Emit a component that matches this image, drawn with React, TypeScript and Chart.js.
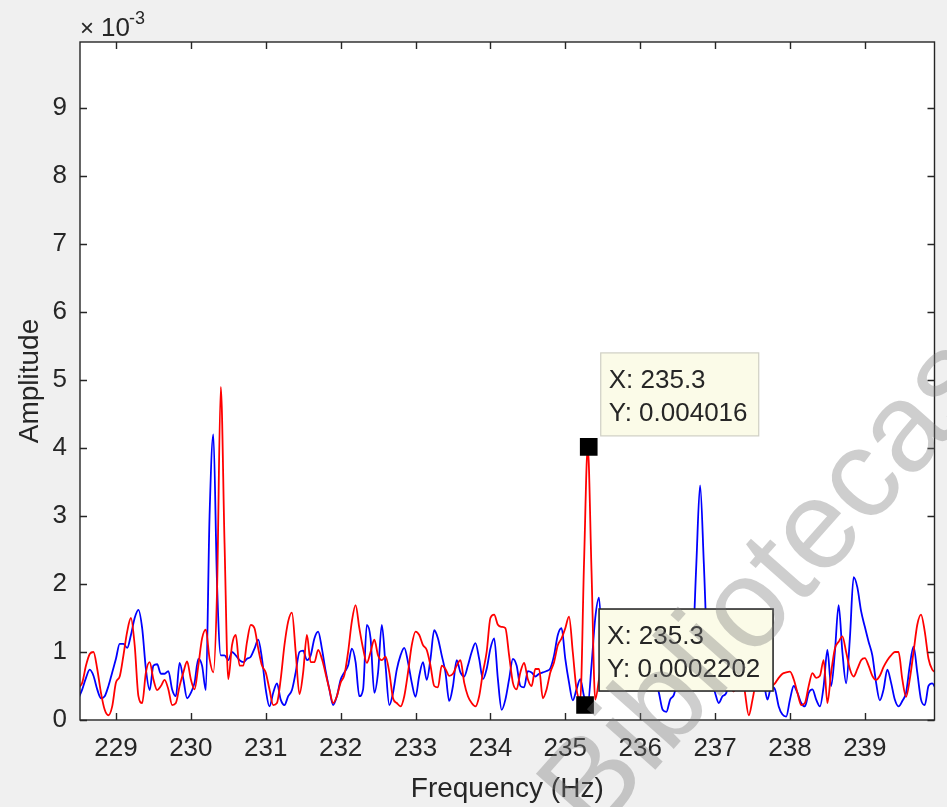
import React, { useEffect, useRef } from "react";
import { Chart, registerables } from "chart.js";

Chart.register(...registerables);

// Frequency grid (Hz)
const F_START = 228.5;
const F_STEP = 0.05;

// Amplitude values in units of 1e-3 (one value per 0.05 Hz, starting 228.50 Hz)
const RED_E3 = [
  0.47, 0.55, 0.80, 0.97, 1.00, 0.75, 0.40, 0.15, 0.07, 0.20,
  0.55, 0.64, 0.95, 1.30, 1.50, 1.10, 0.35, 0.25, 0.70, 0.85,
  0.60, 0.44, 0.50, 0.59, 0.45, 0.22, 0.25, 0.50, 0.70, 0.86,
  0.60, 0.45, 0.80, 1.20, 1.33, 0.90, 0.70, 1.90, 4.90, 2.60,
  0.60, 1.10, 1.25, 0.80, 0.80, 1.15, 1.40, 1.35, 1.05, 0.80,
  0.70, 0.45, 0.22, 0.25, 0.60, 1.10, 1.45, 1.58, 1.00, 0.38,
  0.70, 1.25, 0.85, 0.85, 1.03, 0.90, 0.68, 0.45, 0.25, 0.35,
  0.55, 0.66, 1.00, 1.45, 1.69, 1.35, 1.05, 0.84, 1.00, 1.18,
  0.95, 0.88, 0.93, 0.70, 0.32, 0.25, 0.20, 0.35, 0.70, 1.10,
  1.30, 1.25, 1.10, 1.03, 0.80, 0.50, 0.48, 0.80, 0.75, 0.65,
  0.68, 0.80, 0.88, 0.55, 0.35, 0.25, 0.20, 0.35, 0.70, 1.00,
  1.50, 1.55, 1.40, 1.37, 1.35, 0.95, 0.55, 0.45, 0.70, 0.84,
  0.60, 0.50, 0.75, 0.75, 0.32, 0.45, 0.70, 0.85, 1.10, 1.20,
  1.35, 1.52, 1.00, 0.45, 0.30, 2.30, 4.016, 2.20, 0.30, 0.60,
  1.00, 0.70, 0.50, 0.90, 1.20, 0.80, 0.60, 0.90, 1.10, 0.70,
  0.50, 0.80, 1.00, 0.70, 0.60, 0.90, 1.10, 0.80, 0.60, 0.70,
  1.00, 0.80, 0.60, 0.90, 1.20, 0.90, 0.60, 0.80, 1.10, 0.90,
  0.60, 0.70, 0.90, 0.60, 0.50, 0.42, 0.55, 0.80, 0.40, 0.07,
  0.30, 0.59, 0.80, 0.70, 0.55, 0.50, 0.54, 0.62, 0.68, 0.70,
  0.71, 0.60, 0.40, 0.22, 0.25, 0.50, 0.69, 0.62, 0.65, 0.88,
  0.25, 0.70, 1.05, 1.15, 1.23, 1.00, 0.75, 0.64, 0.75, 0.88,
  0.91, 0.80, 0.65, 0.59, 0.65, 0.78, 0.88, 0.95, 1.00, 1.00,
  0.60, 0.34, 0.60, 1.00, 1.40, 1.55, 1.30, 0.90, 0.74, 0.70,
];

const BLUE_E3 = [
  0.32, 0.45, 0.62, 0.74, 0.65, 0.45, 0.32, 0.35, 0.50, 0.70,
  0.90, 1.12, 1.12, 1.06, 1.25, 1.50, 1.62, 1.35, 0.75, 0.44,
  0.80, 0.82, 0.68, 0.68, 0.72, 0.45, 0.35, 0.84, 0.60, 0.32,
  0.40, 0.55, 0.90, 0.80, 0.44, 3.00, 4.20, 2.00, 0.95, 0.95,
  0.88, 1.00, 0.95, 0.88, 0.85, 0.90, 0.93, 1.05, 1.18, 0.90,
  0.45, 0.20, 0.40, 0.54, 0.30, 0.22, 0.35, 0.44, 0.70, 1.00,
  1.02, 0.88, 0.95, 1.20, 1.30, 1.05, 0.72, 0.45, 0.22, 0.35,
  0.59, 0.70, 0.80, 1.05, 0.85, 0.35, 0.45, 1.40, 1.20, 0.40,
  0.70, 1.40, 0.80, 0.22, 0.40, 0.74, 0.95, 1.06, 0.85, 0.55,
  0.34, 0.65, 0.85, 0.59, 0.90, 1.32, 1.20, 0.95, 0.70, 0.28,
  0.50, 0.88, 0.70, 0.64, 0.80, 1.00, 1.13, 0.90, 0.60, 0.75,
  1.05, 1.20, 0.60, 0.15, 0.30, 0.60, 0.90, 0.80, 0.50, 0.48,
  0.72, 0.70, 0.64, 0.68, 0.70, 0.72, 0.76, 0.95, 1.25, 1.35,
  0.90, 0.55, 0.29, 0.45, 0.60, 0.35, 0.22, 0.80, 1.50, 1.80,
  0.90, 0.60, 0.80, 1.00, 0.70, 0.50, 0.80, 1.10, 0.80, 0.55,
  0.70, 1.00, 0.80, 0.50, 0.60, 0.40, 0.15, 0.12, 0.30, 0.37,
  0.60, 0.80, 0.60, 0.70, 1.00, 2.30, 3.45, 2.30, 0.90, 0.60,
  0.40, 0.25, 0.35, 0.40, 0.70, 0.90, 0.70, 0.60, 0.80, 0.90,
  0.65, 0.50, 0.70, 0.55, 0.30, 0.49, 0.45, 0.20, 0.08, 0.05,
  0.30, 0.50, 0.40, 0.25, 0.20, 0.40, 0.45, 0.30, 0.20, 0.50,
  1.03, 0.50, 1.00, 1.69, 1.00, 0.54, 1.20, 2.10, 1.95, 1.60,
  1.37, 1.15, 0.95, 0.55, 0.29, 0.45, 0.74, 0.55, 0.30, 0.20,
  0.28, 0.40, 0.80, 1.08, 0.70, 0.30, 0.22, 0.50, 0.54, 0.45,
];

const X_TICKS = [229, 230, 231, 232, 233, 234, 235, 236, 237, 238, 239];
const Y_TICKS = [0, 1, 2, 3, 4, 5, 6, 7, 8, 9];
const X_MIN = 228.52;
const X_MAX = 239.93;
const Y_MAX = 9.97;

// Data tips (real units)
const TIP_X = [235.313, 235.264];
const TIP_Y = [0.004016, 0.0002202];
const TIP_TEXT = [
  ["X: 235.3", "Y: 0.004016"],
  ["X: 235.3", "Y: 0.0002202"],
];

const WATERMARK = "Bibliotecas";

const FONT = "'Liberation Sans', Arial, Helvetica, sans-serif";
const AXIS_COLOR = "#262626";

const FREQ = RED_E3.map((_, i) => +(F_START + i * F_STEP).toFixed(2));

const matlabPlugin = {
  id: "matlabLook",
  beforeDraw(chart: any) {
    const { ctx, chartArea: a, width, height } = chart;
    ctx.save();
    ctx.fillStyle = "#f0f0f0";
    ctx.fillRect(0, 0, width, height);
    ctx.fillStyle = "#ffffff";
    ctx.fillRect(a.left, a.top, a.right - a.left, a.bottom - a.top);
    ctx.restore();
  },
  afterDatasetsDraw(chart: any) {
    const { ctx, chartArea: a, scales } = chart;
    const xs = scales.x;
    const ys = scales.y;
    ctx.save();
    // box
    ctx.strokeStyle = AXIS_COLOR;
    ctx.lineWidth = 1.4;
    ctx.strokeRect(a.left, a.top, a.right - a.left, a.bottom - a.top);
    // inward ticks
    const TL = 7;
    ctx.beginPath();
    X_TICKS.forEach((v) => {
      const px = Math.round(xs.getPixelForValue(v)) + 0.5;
      ctx.moveTo(px, a.bottom);
      ctx.lineTo(px, a.bottom - TL);
      ctx.moveTo(px, a.top);
      ctx.lineTo(px, a.top + TL);
    });
    Y_TICKS.forEach((v) => {
      const py = Math.round(ys.getPixelForValue(v)) + 0.5;
      ctx.moveTo(a.left, py);
      ctx.lineTo(a.left + TL, py);
      ctx.moveTo(a.right, py);
      ctx.lineTo(a.right - TL, py);
    });
    ctx.stroke();

    // exponent label
    ctx.fillStyle = AXIS_COLOR;
    ctx.textBaseline = "alphabetic";
    ctx.textAlign = "left";
    ctx.font = `24px ${FONT}`;
    ctx.fillText("\u00d7", a.left + 0, a.top - 6);
    ctx.font = `26px ${FONT}`;
    ctx.fillText("10", a.left + 21, a.top - 6);
    ctx.font = `18px ${FONT}`;
    ctx.fillText("-3", a.left + 49, a.top - 18);

    // data tip boxes
    const boxes = [
      { dx: 12, dy: -94, w: 158, h: 83, border: "#cfcfc4", lw: 1.2 },
      { dx: 14, dy: -96, w: 174, h: 82, border: "#2a2a2a", lw: 1.6 },
    ];
    TIP_X.forEach((tx, i) => {
      const px = xs.getPixelForValue(tx);
      const py = ys.getPixelForValue(TIP_Y[i] * 1000);
      const b = boxes[i];
      const bx = px + b.dx;
      const by = py + b.dy;
      ctx.fillStyle = "#fbfbe8";
      ctx.fillRect(bx, by, b.w, b.h);
      ctx.strokeStyle = b.border;
      ctx.lineWidth = b.lw;
      ctx.strokeRect(bx, by, b.w, b.h);
      ctx.fillStyle = "#262626";
      ctx.font = `26px ${FONT}`;
      ctx.textAlign = "left";
      ctx.textBaseline = "alphabetic";
      ctx.fillText(TIP_TEXT[i][0], bx + 8, by + 35);
      ctx.fillText(TIP_TEXT[i][1], bx + 8, by + 68);
    });
    ctx.restore();
  },
  afterDraw(chart: any) {
    const { ctx } = chart;
    ctx.save();
    ctx.translate(594, 839);
    ctx.rotate((-48.5 * Math.PI) / 180);
    ctx.font = `126px ${FONT}`;
    ctx.fillStyle = "rgba(120,120,120,0.36)";
    ctx.textBaseline = "alphabetic";
    ctx.textAlign = "left";
    ctx.fillText(WATERMARK, 0, 0);
    ctx.restore();
  },
};

export default function App() {
  const canvasRef = useRef<HTMLCanvasElement | null>(null);

  useEffect(() => {
    const canvas = canvasRef.current;
    if (!canvas) return;
    const chart = new Chart(canvas, {
      type: "line",
      data: {
        datasets: [
          {
            label: "tips",
            type: "scatter",
            data: TIP_X.map((x, i) => ({ x, y: TIP_Y[i] * 1000 })),
            pointStyle: "rect",
            pointRadius: 12.5,
            backgroundColor: "#000000",
            borderColor: "#000000",
            borderWidth: 0,
            showLine: false,
            order: 0,
          } as any,
          {
            label: "red",
            data: FREQ.map((f, i) => ({ x: f, y: RED_E3[i] })),
            borderColor: "#ff0000",
            borderWidth: 1.8,
            pointRadius: 0,
            cubicInterpolationMode: "monotone",
            fill: false,
            order: 1,
          },
          {
            label: "blue",
            data: FREQ.map((f, i) => ({ x: f, y: BLUE_E3[i] })),
            borderColor: "#0000ff",
            borderWidth: 1.8,
            pointRadius: 0,
            cubicInterpolationMode: "monotone",
            fill: false,
            order: 2,
          },
        ],
      },
      options: {
        animation: false,
        responsive: false,
        maintainAspectRatio: false,
        devicePixelRatio: 1,
        layout: { padding: { top: 42, right: 11, left: 0, bottom: 0 } },
        plugins: {
          legend: { display: false },
          tooltip: { enabled: false },
        },
        scales: {
          x: {
            type: "linear",
            min: X_MIN,
            max: X_MAX,
            afterBuildTicks: (s: any) => {
              s.ticks = X_TICKS.map((v) => ({ value: v }));
            },
            afterFit: (s: any) => {
              s.height = 87;
            },
            grid: { display: false, drawTicks: false },
            border: { display: false },
            ticks: {
              autoSkip: false,
              maxRotation: 0,
              padding: 13,
              color: AXIS_COLOR,
              font: { family: FONT, size: 26 },
              callback: (v: any) => String(v),
            },
            title: {
              display: true,
              text: "Frequency (Hz)",
              color: AXIS_COLOR,
              font: { family: FONT, size: 28 },
              padding: { top: 0, bottom: 1 },
            },
          },
          y: {
            type: "linear",
            min: 0,
            max: Y_MAX,
            afterBuildTicks: (s: any) => {
              s.ticks = Y_TICKS.map((v) => ({ value: v }));
            },
            afterFit: (s: any) => {
              s.width = 80;
            },
            grid: { display: false, drawTicks: false },
            border: { display: false },
            ticks: {
              padding: 13,
              color: AXIS_COLOR,
              font: { family: FONT, size: 26 },
              callback: (v: any) => String(v),
            },
            title: {
              display: true,
              text: "Amplitude",
              color: AXIS_COLOR,
              font: { family: FONT, size: 28 },
              padding: { top: 13, bottom: 0 },
            },
          },
        },
      },
      plugins: [matlabPlugin],
    });
    return () => chart.destroy();
  }, []);

  return (
    <div style={{ position: "fixed", left: 0, top: 0, width: 947, height: 807 }}>
      <canvas ref={canvasRef} width={947} height={807} style={{ display: "block" }} />
    </div>
  );
}
